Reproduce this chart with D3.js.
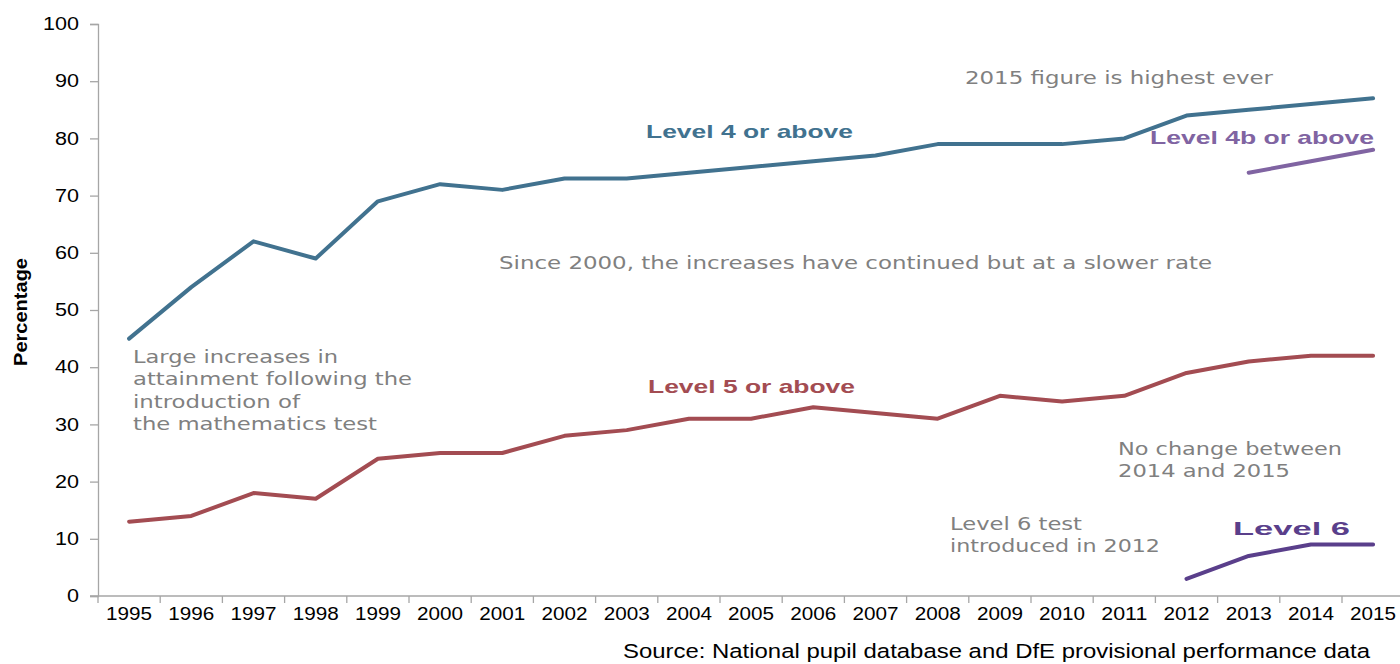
<!DOCTYPE html>
<html>
<head>
<meta charset="utf-8">
<script src="https://cdn.jsdelivr.net/npm/d3@7"></script>
<style>
  html, body { margin: 0; padding: 0; background: #fff; }
  svg { display: block; }
</style>
</head>
<body>
<svg id="chart" width="1400" height="664"></svg>
<script>
// Key Stage 2 mathematics attainment, 1995-2015
const years = [1995, 1996, 1997, 1998, 1999, 2000, 2001, 2002, 2003, 2004, 2005,
               2006, 2007, 2008, 2009, 2010, 2011, 2012, 2013, 2014, 2015];
const level4 = [45, 54, 62, 59, 69, 72, 71, 73, 73, 74, 75, 76, 77, 79, 79, 79, 80, 84, 85, 86, 87];
const level5 = [13, 14, 18, 17, 24, 25, 25, 28, 29, 31, 31, 33, 32, 31, 35, 34, 35, 39, 41, 42, 42];
const level4bYears = [2013, 2014, 2015];
const level4b = [74, 76, 78];
const level6Years = [2012, 2013, 2014, 2015];
const level6 = [3, 7, 9, 9];
const yTicks = [0, 10, 20, 30, 40, 50, 60, 70, 80, 90, 100];

const svg = d3.select("#chart");
const plotLeft = 98, plotTop = 24, plotBottom = 596, bandW = 62.2;
const sans = "Liberation Sans, Arial, sans-serif";
const verdanaLike = "DejaVu Sans, Verdana, sans-serif";

const x = d3.scaleBand().domain(years).range([plotLeft, plotLeft + bandW * years.length]).padding(0);
const y = d3.scaleLinear().domain([0, 100]).range([plotBottom, plotTop]);
const cx = yr => x(yr) + x.bandwidth() / 2;

const axisColor = "#a6a6a6";

// text is set slightly wide; stretch each string to its width
function fit(sel, w) {
  sel.attr("textLength", w).attr("lengthAdjust", "spacingAndGlyphs");
}

// y axis
const yAxis = svg.append("g").attr("transform", `translate(${plotLeft},0)`)
  .call(d3.axisLeft(y).tickValues(yTicks).tickSize(8).tickPadding(11));
yAxis.select(".domain").attr("stroke", axisColor).attr("stroke-width", 1.3);
yAxis.selectAll(".tick line").attr("stroke", axisColor).attr("stroke-width", 1.3);
yAxis.selectAll(".tick text")
  .attr("font-family", sans).attr("font-size", 17.5).attr("fill", "#000")
  .attr("textLength", d => String(d).length * 12)
  .attr("lengthAdjust", "spacingAndGlyphs");

// x axis (ticks sit on the category boundaries)
const xAxis = svg.append("g").attr("transform", `translate(0,${plotBottom})`)
  .call(d3.axisBottom(x).tickSize(0).tickPadding(11));
xAxis.select(".domain").attr("stroke", axisColor).attr("stroke-width", 1.3)
  .attr("d", `M${plotLeft - 8},0H1400`);
xAxis.selectAll(".tick text")
  .attr("font-family", sans).attr("font-size", 18).attr("fill", "#000")
  .call(fit, 46);
xAxis.selectAll("line.boundary")
  .data(years.map(yr => x(yr)).concat([x(years[years.length - 1]) + x.bandwidth()]))
  .join("line").attr("class", "boundary")
  .attr("x1", d => d).attr("x2", d => d).attr("y1", 0).attr("y2", 7)
  .attr("stroke", axisColor).attr("stroke-width", 1.3);

// axis title
svg.append("text")
  .attr("transform", "translate(27,312) rotate(-90)")
  .attr("text-anchor", "middle")
  .attr("font-family", sans).attr("font-weight", "bold").attr("font-size", 19)
  .call(fit, 108)
  .text("Percentage");

// series lines
const line = d3.line().x(d => cx(d[0])).y(d => y(d[1]));
const series = [
  { yrs: years, vals: level4, color: "#41728f" },
  { yrs: years, vals: level5, color: "#a34c52" },
  { yrs: level4bYears, vals: level4b, color: "#8064a2" },
  { yrs: level6Years, vals: level6, color: "#5a3f8b" }
];
svg.selectAll("path.series").data(series).join("path").attr("class", "series")
  .attr("d", s => line(s.yrs.map((yr, i) => [yr, s.vals[i]])))
  .attr("fill", "none").attr("stroke", s => s.color)
  .attr("stroke-width", 4).attr("stroke-linecap", "round").attr("stroke-linejoin", "round");

// series labels
const seriesLabels = [
  { text: "Level 4 or above", x: 646, y: 138, w: 207, color: "#41728f" },
  { text: "Level 5 or above", x: 648, y: 393, w: 207, color: "#a34c52" },
  { text: "Level 4b or above", x: 1150, y: 144, w: 224, color: "#8064a2" },
  { text: "Level 6", x: 1233, y: 535, w: 117, color: "#5a3f8b" }
];
svg.selectAll("text.slabel").data(seriesLabels).join("text").attr("class", "slabel")
  .attr("x", d => d.x).attr("y", d => d.y)
  .attr("font-family", sans).attr("font-weight", "bold").attr("font-size", 19)
  .attr("textLength", d => d.w).attr("lengthAdjust", "spacingAndGlyphs")
  .attr("fill", d => d.color).text(d => d.text);

// commentary
const notes = [
  { lines: ["2015 figure is highest ever"], widths: [308], x: 965, y: 84 },
  { lines: ["Since 2000, the increases have continued but at a slower rate"], widths: [713], x: 499, y: 269 },
  { lines: ["Large increases in", "attainment following the", "introduction of", "the mathematics test"],
    widths: [205, 279, 167, 244], x: 133, y: 363 },
  { lines: ["No change between", "2014 and 2015"], widths: [224, 172], x: 1118, y: 455 },
  { lines: ["Level 6 test", "introduced in 2012"], widths: [132, 210], x: 950, y: 530 }
];
notes.forEach(n => {
  const t = svg.append("text")
    .attr("font-family", verdanaLike).attr("font-size", 17.5).attr("fill", "#808080");
  n.lines.forEach((ln, i) => {
    t.append("tspan").attr("x", n.x).attr("y", n.y + i * 22.3)
      .call(fit, n.widths[i]).text(ln);
  });
});

// source line
svg.append("text")
  .attr("x", 623).attr("y", 658)
  .attr("font-family", sans).attr("font-size", 20.5).attr("fill", "#000")
  .call(fit, 747)
  .text("Source: National pupil database and DfE provisional performance data");
</script>
</body>
</html>
